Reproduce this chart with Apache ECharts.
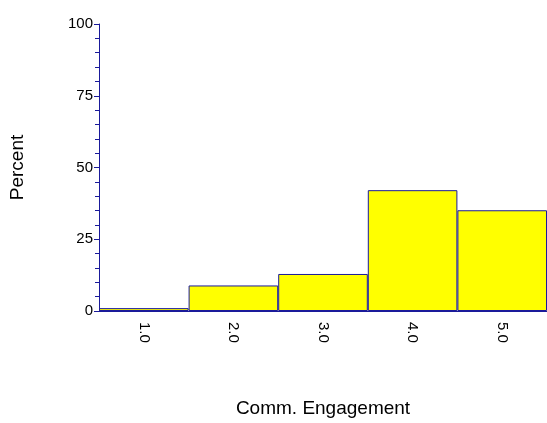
<!DOCTYPE html>
<html><head><meta charset="utf-8">
<script src="https://cdn.jsdelivr.net/npm/echarts@6/dist/echarts.min.js"></script>
<style>html,body{margin:0;padding:0;background:#fff}#c{width:547px;height:423px}</style>
</head><body><div id="c"></div>
<script>
const categories = ['1.0','2.0','3.0','4.0','5.0'];
const percents = [1.0, 8.9, 12.9, 42.1, 35.1];
const yTicks = [0, 25, 50, 75, 100];
const chart = echarts.init(document.getElementById('c'));
const navy = '#1a1a9a';
chart.setOption({
  animation: false,
  grid: {left: 99, right: 0, top: 24, bottom: 109, containLabel: false},
  xAxis: {
    type: 'category', data: categories,
    name: 'Comm. Engagement', nameLocation: 'middle', nameGap: 88,
    nameTextStyle: {fontFamily: 'Liberation Sans', fontSize: 19, color: '#000'},
    axisLine: {lineStyle: {color: navy, width: 1}},
    axisTick: {show: false},
    axisLabel: {rotate: -90, fontFamily: 'Liberation Sans', fontSize: 15, color: '#000', margin: 11}
  },
  yAxis: {
    type: 'value', min: 0, max: 100, interval: 25,
    name: 'Percent', nameLocation: 'middle', nameGap: 72, nameRotate: 90,
    nameTextStyle: {fontFamily: 'Liberation Sans', fontSize: 19, color: '#000'},
    axisLine: {show: true, lineStyle: {color: navy, width: 1}},
    axisTick: {show: true, length: 5, lineStyle: {color: navy}},
    minorTick: {show: true, splitNumber: 5, length: 4, lineStyle: {color: navy}},
    splitLine: {show: false},
    axisLabel: {fontFamily: 'Liberation Sans', fontSize: 15, color: '#000', margin: 6,
      formatter: v => yTicks.includes(v) ? String(v) : ''}
  },
  series: [{
    type: 'bar', data: percents, barCategoryGap: '0%',
    itemStyle: {color: '#ffff00', borderColor: navy, borderWidth: 1}
  }]
});
</script></body></html>
